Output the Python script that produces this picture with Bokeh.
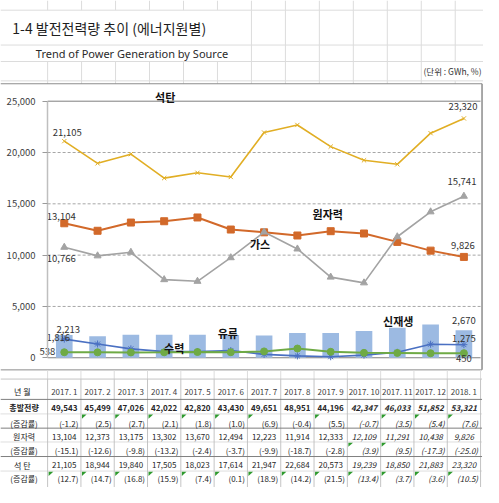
from bokeh.plotting import figure
from bokeh.models import Range1d, FixedTicker, NumeralTickFormatter, LinearAxis
from bokeh.core.properties import value
from bokeh.embed import file_html
from bokeh.resources import INLINE

# ---------------- data ----------------
months = ["2017. 1", "2017. 2", "2017. 3", "2017. 4", "2017. 5", "2017. 6", "2017. 7",
          "2017. 8", "2017. 9", "2017. 10", "2017. 11", "2017. 12", "2018. 1"]
coal = [21105, 18944, 19840, 17505, 18023, 17614, 21947, 22684, 20573, 19239, 18850, 21883, 23320]
nuclear = [13104, 12373, 13175, 13302, 13670, 12494, 12223, 11914, 12333, 12109, 11291, 10438, 9826]
gas = [10766, 9930, 10280, 7610, 7450, 9750, 12250, 10600, 7860, 7300, 11790, 14220, 15741]
oil = [1816, 1340, 870, 600, 600, 700, 330, 180, 100, 260, 530, 1320, 1275]
hydro = [538, 530, 520, 530, 560, 540, 620, 900, 580, 480, 470, 440, 450]
renew = [2213, 2100, 2250, 2250, 2250, 2220, 2160, 2420, 2420, 2600, 2930, 3240, 2670]
total = [49543, 45499, 47026, 42022, 42820, 43430, 49651, 48951, 44196, 42347, 46033, 51852, 53321]
total_rate = [-1.2, 2.5, 2.7, 2.1, 1.8, 1.0, 6.9, -0.4, 5.5, -0.7, 3.5, 5.4, 7.6]
nuclear_rate = [-15.1, -12.6, -9.8, -13.2, -2.4, -3.7, -9.9, -18.7, -2.8, 3.9, 9.5, -17.3, -25.0]
coal_rate = [12.7, 14.7, 16.8, 15.9, 7.4, 0.1, 18.9, 14.2, 21.5, 13.4, 3.7, 3.6, 10.5]
preliminary = [False] * 9 + [True] * 4
y_ticks = [0, 5000, 10000, 15000, 20000, 25000]
row_labels = ["년   월", "총발전량", "(증감률)", "원자력", "(증감률)", "석   탄", "(증감률)"]

title_text = "1-4 발전전력량 추이 (에너지원별)"
subtitle_text = "Trend of Power Generation by Source"
unit_text = "(단위 : GWh, %)"

# ---------------- geometry (layout only) ----------------
W, H = 483, 487
REF_W, REF_H = 492.0, 503.0
KX, KY = W / REF_W, H / REF_H
N = len(months)
LEFT = 48 * KX
CW = (489 - 48) * KX / N
BOT = 369 * KY
UPX = 25000 / ((369 - 104) * KY)


def X(px):
    return (px * KX - LEFT) / CW


def Y(py):
    return (BOT - py * KY) * UPX


KR = value("Noto Sans CJK KR")
LAT = value("Noto Sans")
C_COAL = "#E1AE24"
C_NUC = "#D2692A"
C_GAS = "#A3A3A3"
C_OIL = "#4A70C2"
C_HYD = "#6FAA45"
C_REN = "#9CBAE2"
GRID_XL = "#DCDCDC"
FRAME = "#8C8C8C"

p = figure(width=W, height=H, x_range=Range1d(X(0), X(REF_W)), y_range=Range1d(Y(REF_H), Y(0)),
           x_axis_location=None, y_axis_location=None, toolbar_location=None,
           output_backend="svg", min_border=0, min_border_left=0, min_border_right=0,
           min_border_top=0, min_border_bottom=0, outline_line_color=None)
p.grid.visible = False
p.border_fill_color = "white"
p.background_fill_color = "white"


def hl(py, px0, px1, color, width=1, dash="solid"):
    p.line([X(px0), X(px1)], [Y(py), Y(py)], line_color=color, line_width=width, line_dash=dash)


# ---------------- sheet grid & header ----------------
xl_cols = [48 + 34.6 * i for i in range(14)]
gx, gy = [], []
for yy in (10, 46, 63, 83):
    gx.append([X(0), X(REF_W)]); gy.append([Y(yy), Y(yy)])
for xx in xl_cols:
    segs = [(0, 10), (83, 86)]
    if xx > 222:
        segs.append((10, 46))
    if xx > 240:
        segs.append((46, 63))
    if xx < 430:
        segs.append((63, 83))
    for a, b in segs:
        gx.append([X(xx), X(xx)]); gy.append([Y(a), Y(b)])
p.multi_line(xs=gx, ys=gy, line_color=GRID_XL, line_width=1)

p.text(x=[X(12)], y=[Y(28.5)], text=[title_text], text_font=KR, text_font_size="14px",
       text_color="#1E1E1E", text_baseline="middle", text_align="left")
p.text(x=[X(36)], y=[Y(55)], text=[subtitle_text], text_font=LAT, text_font_size="11px",
       text_color="#2A2A2A", text_baseline="middle", text_align="left")
p.text(x=[X(490)], y=[Y(73)], text=[unit_text], text_font=KR, text_font_size="8.5px",
       text_color="#333333", text_baseline="middle", text_align="right")

# chart frame
hl(86, 0, 490.5, FRAME)
hl(381.5, 0, 490.5, FRAME)
p.line([X(490.5), X(490.5)], [Y(86), Y(381.5)], line_color=FRAME, line_width=1.5)

# ---------------- chart ----------------
xc = [i + 0.5 for i in range(N)]

grid_ticks = y_ticks[1:-1]
p.segment(x0=[0] * len(grid_ticks), x1=[N] * len(grid_ticks), y0=grid_ticks, y1=grid_ticks,
          line_color="#A6A6A6", line_dash="3 2", line_width=1)
p.segment(x0=[0, 0], x1=[N, N], y0=[y_ticks[0], y_ticks[-1]], y1=[y_ticks[0], y_ticks[-1]],
          line_color="#7F7F7F", line_width=1)

ya = LinearAxis(fixed_location=0, ticker=FixedTicker(ticks=y_ticks),
                formatter=NumeralTickFormatter(format="0,0"), bounds=(0, 25000))
ya.axis_line_color = "#BFBFBF"
ya.axis_line_width = 1.5
ya.major_tick_line_color = "#9A9A9A"
ya.major_tick_out = 5
ya.major_tick_in = 0
ya.minor_tick_line_color = None
ya.major_label_text_font = "Noto Sans CJK KR"
ya.major_label_text_font_size = "9.5px"
ya.major_label_text_color = "#404040"
ya.major_label_standoff = 7
p.add_layout(ya, "left")

p.vbar(x=xc, top=renew, width=0.5, fill_color=C_REN, line_color=None)

p.line(xc, coal, line_color=C_COAL, line_width=1.6)
p.scatter(xc, coal, marker="x", size=6, line_color=C_COAL, line_width=1)
p.line(xc, nuclear, line_color=C_NUC, line_width=2)
p.scatter(xc, nuclear, marker="square", size=7, fill_color=C_NUC, line_color=C_NUC)
p.line(xc, gas, line_color=C_GAS, line_width=1.6)
p.scatter(xc, gas, marker="triangle", size=7, fill_color=C_GAS, line_color=C_GAS)
p.line(xc, oil, line_color=C_OIL, line_width=1.6)
p.scatter(xc, oil, marker="asterisk", size=7, line_color=C_OIL, line_width=1)
p.line(xc, hydro, line_color=C_HYD, line_width=2)
p.scatter(xc, hydro, marker="circle", size=7, fill_color=C_HYD, line_color=C_HYD)


def fmt(v):
    return f"{v:,}"


def fmt_rate(v):
    return f"({v:.1f})"


def dlabel(i, series, xo, yo, align="center"):
    p.text(x=[xc[i]], y=[series[i]], text=[fmt(series[i])], x_offset=xo, y_offset=yo,
           text_font=KR, text_font_size="9.5px", text_color="#333333",
           text_align=align, text_baseline="middle")


dlabel(0, coal, 3, -9)
dlabel(0, nuclear, -3, -7)
dlabel(0, gas, -3, 11)
dlabel(0, renew, 4, -6)
dlabel(0, oil, -6, -1.5)
dlabel(0, hydro, -9, -1, "right")
dlabel(-1, coal, -1, -12)
dlabel(-1, gas, -2, -15)
dlabel(-1, nuclear, -1, -11)
dlabel(-1, renew, 0, -10)
dlabel(-1, oil, 0, -6)
dlabel(-1, hydro, 0, 5)


def slabel(txt, i, py, xo):
    p.text(x=[xc[i]], y=[Y(py)], text=[txt], x_offset=xo, text_font=KR, text_font_size="11px",
           text_font_style="bold", text_color="#111111", text_align="center",
           text_baseline="middle")


slabel("석탄", 3, 100, 1)
slabel("원자력", 8, 220, -3)
slabel("가스", 6, 252, -4)
slabel("유류", 5, 343.5, -3)
slabel("수력", 3, 359, 10)
slabel("신재생", 10, 331, 1)

# ---------------- table ----------------
row_lines = [391, 412, 427, 441.7, 456, 471, 486, 501]
row_centers = [404, 420.7, 436.7, 450.7, 465, 480, 493.3]

# sheet grid between chart and table
p.multi_line(xs=[[i, i] for i in range(N + 1)], ys=[[Y(382), Y(391)]] * (N + 1),
             line_color=GRID_XL, line_width=1)
p.multi_line(xs=[[i, i] for i in range(N + 1)], ys=[[Y(391), Y(REF_H)]] * (N + 1),
             line_color="#C4C4C4", line_width=1)
hl(391, 0, 490.5, "#C4C4C4")
for k, yy in enumerate(row_lines[1:-1]):
    if k % 2 == 0:
        hl(yy, 0, 490.5, "#7F7F7F")
    else:
        hl(yy, 0, 490.5, "#BDBDBD", 1, "1 1")

lab_x = X(24)
for r, lab in enumerate(row_labels):
    p.text(x=[lab_x], y=[Y(row_centers[r])], text=[lab], text_font=KR, text_font_size="8px",
           text_font_style="bold" if r == 1 else "normal", text_color="#222222",
           text_align="center", text_baseline="middle")

p.text(x=xc, y=[Y(row_centers[0])] * N, text=months, text_font=KR, text_font_size="8px",
       text_color="#404040", text_align="center", text_baseline="middle")

xr = [i + 1 for i in range(N)]


def style(bold):
    out = []
    for pr in preliminary:
        if bold:
            out.append("bold italic" if pr else "bold")
        else:
            out.append("italic" if pr else "normal")
    return out


def val_row(vals, r, bold):
    p.text(x=xc, y=[Y(row_centers[r])] * N, text=[fmt(v) for v in vals], text_font=KR,
           text_font_size="8px", text_font_style=style(bold), text_color="#262626",
           text_align="center", text_baseline="middle")


def rate_row(vals, r):
    p.text(x=xr, y=[Y(row_centers[r])] * N, text=[fmt_rate(v) for v in vals], x_offset=-2.5,
           text_font=KR, text_font_size="8px", text_font_style=style(False),
           text_color="#262626", text_align="right", text_baseline="middle")
    top = row_lines[r]
    xs, ys = [], []
    for i, v in enumerate(vals):
        if v > 0:
            xs.append([i + 0.03, i + 0.17, i + 0.03])
            ys.append([Y(top + 0.7), Y(top + 0.7), Y(top + 5)])
    if xs:
        p.patches(xs=xs, ys=ys, fill_color="#2E9A2E", line_color=None)


val_row(total, 1, True)
rate_row(total_rate, 2)
val_row(nuclear, 3, False)
rate_row(nuclear_rate, 4)
val_row(coal, 5, False)
rate_row(coal_rate, 6)

open("out.html", "w").write(file_html(p, INLINE))
